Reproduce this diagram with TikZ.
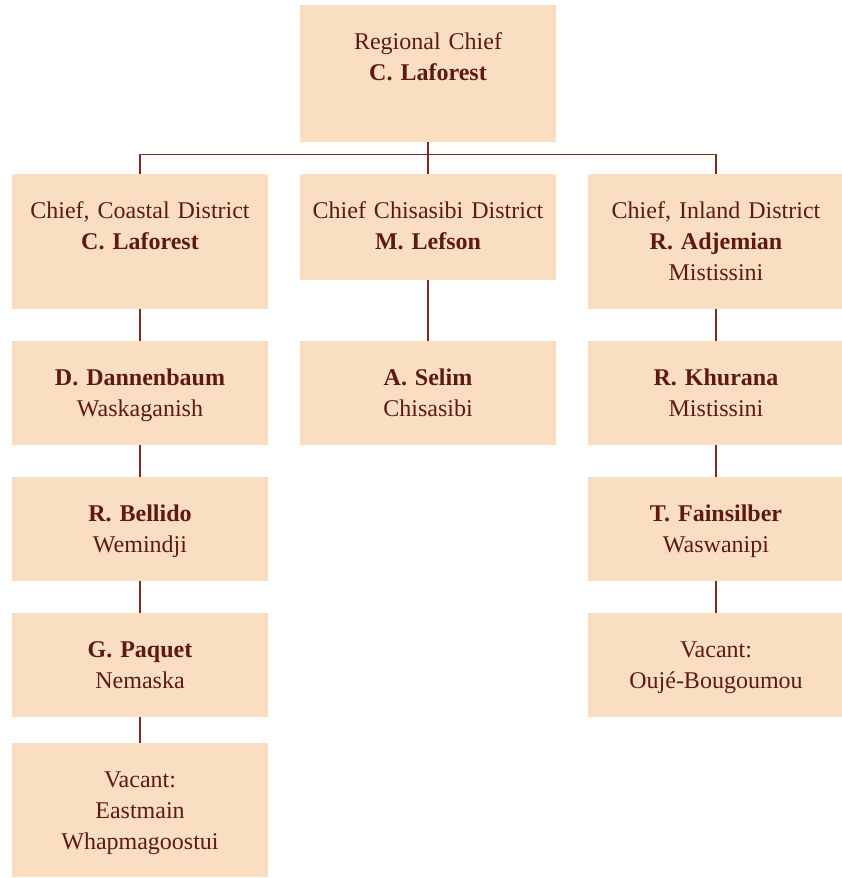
\documentclass[tikz,border=0pt]{standalone}
\usepackage{fontspec}
\setmainfont[WordSpace=0.75]{Liberation Serif}
\definecolor{peach}{HTML}{F9DEC2}
\definecolor{maroon}{HTML}{5E1A12}
\definecolor{rulecol}{HTML}{7A2820}
\begin{document}
\begin{tikzpicture}[x=1pt,y=-1pt,
    post/.style={fill=peach,text=maroon,text width=240pt,align=center,inner xsep=8pt,inner ysep=0pt,
      text height=44pt,text depth=#1,anchor=north,font=\fontsize{24}{31}\selectfont},
    post/.default=60pt,
    link/.style={draw=rulecol,line width=1.2pt}]
  \useasboundingbox (0,0) rectangle (841,878);
  \node[post=93pt] (regional) at (428,5) {Regional Chief\\\textbf{C. Laforest}};
  \node[post=91pt] (coastal) at (140,174) {Chief, Coastal District\\\textbf{C. Laforest}};
  \node[post=62pt] (chisasibi) at (428,174) {Chief Chisasibi District\\\textbf{M. Lefson}};
  \node[post=91pt] (inland) at (716,174) {Chief, Inland District\\\textbf{R. Adjemian}\\Mistissini};
  \node[post] (dannenbaum) at (140,341) {\textbf{D. Dannenbaum}\\Waskaganish};
  \node[post] (selim) at (428,341) {\textbf{A. Selim}\\Chisasibi};
  \node[post] (khurana) at (716,341) {\textbf{R. Khurana}\\Mistissini};
  \node[post] (bellido) at (140,477) {\textbf{R. Bellido}\\Wemindji};
  \node[post] (fainsilber) at (716,477) {\textbf{T. Fainsilber}\\Waswanipi};
  \node[post] (paquet) at (140,613) {\textbf{G. Paquet}\\Nemaska};
  \node[post] (oujevacant) at (716,613) {Vacant:\\Oujé-Bougoumou};
  \node[post=90pt] (eastvacant) at (140,743) {Vacant:\\Eastmain\\Whapmagoostui};
  \coordinate (bus) at (428,154.5);
  \draw[link] (regional.south) -- (chisasibi.north);
  \draw[link] (coastal.north) |- (bus) -| (inland.north);
  \draw[link] (coastal.south) -- (dannenbaum.north);
  \draw[link] (dannenbaum.south) -- (bellido.north);
  \draw[link] (bellido.south) -- (paquet.north);
  \draw[link] (paquet.south) -- (eastvacant.north);
  \draw[link] (chisasibi.south) -- (selim.north);
  \draw[link] (inland.south) -- (khurana.north);
  \draw[link] (khurana.south) -- (fainsilber.north);
  \draw[link] (fainsilber.south) -- (oujevacant.north);
\end{tikzpicture}
\end{document}
